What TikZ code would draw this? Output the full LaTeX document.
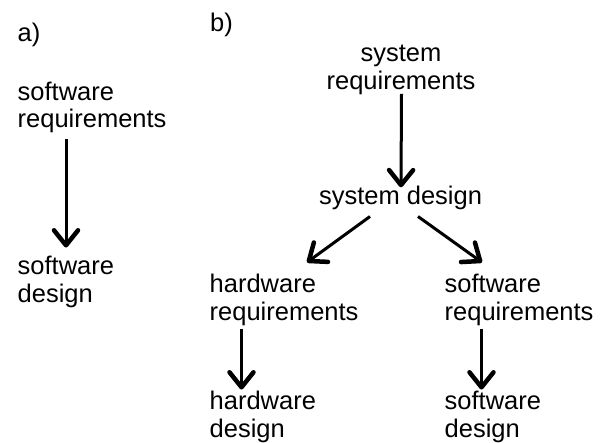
\documentclass[tikz,border=0pt]{standalone}
\usepackage{fontspec}
\setmainfont{Liberation Sans}
\usetikzlibrary{arrows.meta}
\tikzset{
  lbl/.style={inner sep=0pt, font=\fontsize{25.5}{27.5}\selectfont, align=left},
  clbl/.style={inner sep=0pt, font=\fontsize{25.5}{27.5}\selectfont, align=center},
  arr/.style={line width=3pt, -{Straight Barb[length=15pt,width=24pt,line width'=4.5pt,round]}}
}
\begin{document}
\begin{tikzpicture}[x=1pt,y=-1pt]
\useasboundingbox (0,0) rectangle (600,443);
% panel a (base anchor of a two-line node sits on its last line)
\node[lbl, anchor=base west] (la) at (17.5,42) {a)};
\node[lbl, anchor=base west] (sreqA) at (17.5,128) {software\\requirements};
\node[lbl, anchor=base west] (sdesA) at (17.5,302.5) {software\\design};
\draw[arr] ([xshift=48.5pt,yshift=-5.7pt]sreqA.south west) -- ([xshift=48.5pt,yshift=8.8pt]sdesA.north west);
% panel b
\node[lbl, anchor=base west] (lb) at (210,32) {b)};
\node[clbl, anchor=base] (sysreq) at (401,89.5) {system\\requirements};
\node[clbl, anchor=base] (sysdes) at (400.5,205) {system design};
\node[lbl, anchor=base west] (hwreq) at (209.5,320.5) {hardware\\requirements};
\node[lbl, anchor=base west] (swreq) at (444.5,320.5) {software\\requirements};
\node[lbl, anchor=base west] (hwdes) at (209.5,437.5) {hardware\\design};
\node[lbl, anchor=base west] (swdes) at (444.5,437.5) {software\\design};
\draw[arr] ([xshift=0.5pt,yshift=1pt]sysreq.south) -- ([xshift=0.5pt,yshift=-1pt]sysdes.north);
\draw[arr] ([xshift=-30.5pt,yshift=-6pt]sysdes.south) -- ([xshift=97.5pt,yshift=12pt]hwreq.north west);
\draw[arr] ([xshift=17.5pt,yshift=-6pt]sysdes.south) -- ([xshift=37.5pt,yshift=12pt]swreq.north west);
\draw[arr] ([xshift=32pt,yshift=-2.7pt]hwreq.south west) -- ([xshift=32pt,yshift=1.8pt]hwdes.north west);
\draw[arr] ([xshift=37pt,yshift=-2.7pt]swreq.south west) -- ([xshift=37pt,yshift=1.8pt]swdes.north west);
\end{tikzpicture}
\end{document}
